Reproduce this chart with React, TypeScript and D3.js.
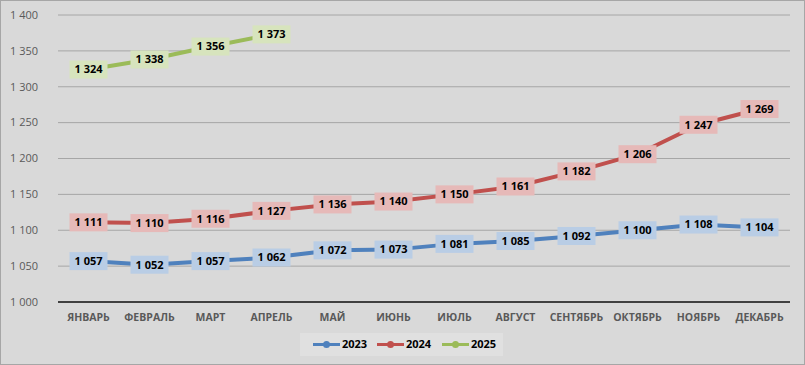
import React from "react";
import * as d3 from "d3";

const months = ["ЯНВАРЬ","ФЕВРАЛЬ","МАРТ","АПРЕЛЬ","МАЙ","ИЮНЬ","ИЮЛЬ","АВГУСТ","СЕНТЯБРЬ","ОКТЯБРЬ","НОЯБРЬ","ДЕКАБРЬ"];
const values2023 = [1057,1052,1057,1062,1072,1073,1081,1085,1092,1100,1108,1104];
const values2024 = [1111,1110,1116,1127,1136,1140,1150,1161,1182,1206,1247,1269];
const values2025 = [1324,1338,1356,1373];
const yTicks = [1000,1050,1100,1150,1200,1250,1300,1350,1400];

const seriesNames = ["2023","2024","2025"];
const seriesValues = [values2023, values2024, values2025];
const lineColors = ["#4f81bd","#c0504d","#9bbb59"];
const boxColors = ["#b9cde5","#e6b9b8","#d7e4bd"];

const W = 805, H = 365;
const fmt = (v: number) => {
  const s = String(v);
  return s.length > 3 ? s.slice(0, s.length - 3) + " " + s.slice(-3) : s;
};

export default function App() {
  const x = d3.scaleBand<string>().domain(months).range([58, 790]);
  const y = d3.scaleLinear().domain([1000, 1400]).range([302, 15]);
  const cx = (m: string) => (x(m) as number) + x.bandwidth() / 2;
  const line = d3.line<[string, number]>().x(d => cx(d[0])).y(d => y(d[1]));
  const font = "'Open Sans', 'Noto Sans', sans-serif";

  const legendX = [313, 377, 442];

  return (
    <svg width={W} height={H} style={{ position: "absolute", left: 0, top: 0, display: "block" }} fontFamily={font}>
      <rect x={0.5} y={0.5} width={W - 1} height={H - 1} fill="#d9d9d9" stroke="#a6a6a6" />
      {yTicks.map(t => (
        <g key={t}>
          {t !== 1000 && <line x1={58} x2={790} y1={y(t)} y2={y(t)} stroke="#a6a6a6" strokeWidth={1} />}
          <text x={38} y={y(t)} dy="0.35em" textAnchor="end" fontSize={11} fill="#595959">{fmt(t)}</text>
        </g>
      ))}
      <line x1={58} x2={790} y1={y(1000)} y2={y(1000)} stroke="#404040" strokeWidth={2} />
      {months.map(m => (
        <text key={m} x={cx(m)} y={321} textAnchor="middle" fontSize={10.5} fontWeight="bold" fill="#595959">{m}</text>
      ))}
      {seriesValues.map((vals, si) => {
        const pts: [string, number][] = vals.map((v, i) => [months[i], v]);
        return (
          <g key={si}>
            <path d={line(pts) as string} fill="none" stroke={lineColors[si]} strokeWidth={4} strokeLinejoin="round" />
            {pts.map((p, i) => (
              <circle key={i} cx={cx(p[0])} cy={y(p[1])} r={7} fill={lineColors[si]} />
            ))}
            {pts.map((p, i) => (
              <g key={"l" + i}>
                <rect x={cx(p[0]) - 19} y={y(p[1]) - 9} width={38} height={18} fill={boxColors[si]} />
                <text x={cx(p[0])} y={y(p[1])} dy="0.35em" textAnchor="middle" fontSize={11} fontWeight="bold" fill="#000">{fmt(p[1])}</text>
              </g>
            ))}
          </g>
        );
      })}
      <rect x={300} y={333} width={203} height={23} fill="#e0e0e0" />
      {seriesNames.map((n, i) => (
        <g key={n}>
          <line x1={legendX[i]} x2={legendX[i] + 27} y1={344.5} y2={344.5} stroke={lineColors[i]} strokeWidth={3} />
          <circle cx={legendX[i] + 13.5} cy={344.5} r={3.5} fill={lineColors[i]} />
          <text x={legendX[i] + 29} y={344.5} dy="0.35em" fontSize={11} fontWeight="bold" fill="#000">{n}</text>
        </g>
      ))}
    </svg>
  );
}
